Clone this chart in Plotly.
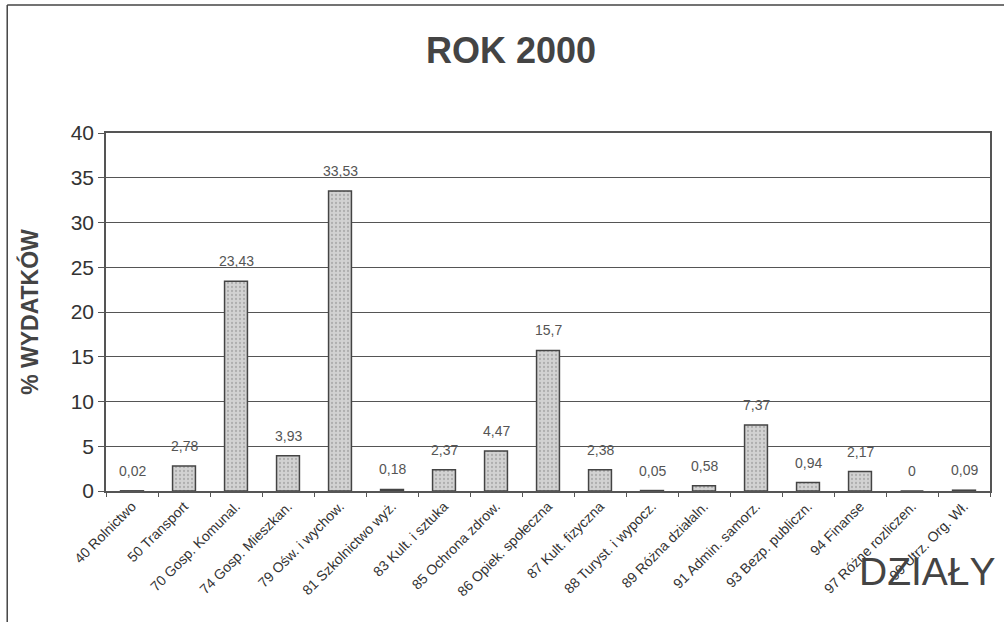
import plotly.graph_objects as go

categories = ["40 Rolnictwo", "50 Transport", "70 Gosp. Komunal.", "74 Gosp. Mieszkan.",
              "79 Ośw. i wychow.", "81 Szkolnictwo wyż.", "83 Kult. i sztuka", "85 Ochrona zdrow.",
              "86 Opiek. społeczna", "87 Kult. fizyczna", "88 Turyst. i wypocz.", "89 Różna działaln.",
              "91 Admin. samorz.", "93 Bezp. publiczn.", "94 Finanse", "97 Różne rozliczen.",
              "99 Utrz. Org. Wł."]
values = [0.02, 2.78, 23.43, 3.93, 33.53, 0.18, 2.37, 4.47, 15.7, 2.38, 0.05, 0.58, 7.37, 0.94, 2.17, 0, 0.09]
labels = ["0,02", "2,78", "23,43", "3,93", "33,53", "0,18", "2,37", "4,47", "15,7", "2,38",
          "0,05", "0,58", "7,37", "0,94", "2,17", "0", "0,09"]
y_ticks = [0, 5, 10, 15, 20, 25, 30, 35, 40]

FONT = "Liberation Sans, Arial, sans-serif"

fig = go.Figure()
fig.add_trace(go.Bar(
    x=categories, y=values, width=0.44,
    marker=dict(color="#cfcfcf", line=dict(color="#444444", width=1.5),
                pattern=dict(shape=".", fgcolor="#8a8a8a", bgcolor="#d2d2d2", size=4, solidity=0.25)),
    hoverinfo="skip",
))
for c, v, t in zip(categories, values, labels):
    fig.add_annotation(x=c, y=v, text=t, showarrow=False, yanchor="bottom", yshift=10,
                       font=dict(family=FONT, size=14, color="#555555"))

fig.update_layout(
    width=1004, height=622,
    margin=dict(l=106, r=12, t=133, b=131),
    paper_bgcolor="white", plot_bgcolor="white",
    showlegend=False,
    title=dict(text="<b>ROK 2000</b>", x=511 / 1004, xanchor="center",
               y=1 - 50 / 622, yanchor="middle",
               font=dict(family=FONT, size=36, color="#444444")),
    font=dict(family=FONT, color="#333333"),
)
fig.update_xaxes(
    tickangle=-45, tickfont=dict(size=14, color="#333333"),
    showline=True, linecolor="#555555", linewidth=1.5, mirror=True,
    ticks="outside", ticklen=4, tickcolor="#555555", tickson="boundaries",
    showgrid=False, range=[-0.5, 16.5],
)
fig.update_yaxes(
    range=[0, 40], tickvals=y_ticks, ticktext=[str(v) for v in y_ticks],
    tickfont=dict(size=21, color="#333333"),
    showgrid=True, gridcolor="#555555", gridwidth=1,
    showline=True, linecolor="#555555", linewidth=1.5, mirror=True,
    ticks="outside", ticklen=6, tickcolor="#555555",
    title=dict(text="<b>% WYDATKÓW</b>", font=dict(size=23, color="#444444"), standoff=26),
)
# outer frame (left and top edges of the chart box)
fx = (7 - 106) / 886
fy = (491 - 5) / 358
fig.add_shape(type="line", xref="paper", yref="paper", x0=fx, x1=fx, y0=-0.4, y1=fy,
              line=dict(color="#444444", width=1.5))
fig.add_shape(type="line", xref="paper", yref="paper", x0=fx, x1=1.02, y0=fy, y1=fy,
              line=dict(color="#444444", width=1.5))
fig.add_annotation(xref="paper", yref="paper", x=(1000 - 106) / 886, y=(491 - 571) / 358,
                   xanchor="right", yanchor="middle",
                   text="DZIAŁY", showarrow=False,
                   font=dict(family=FONT, size=39, color="#444444"))

fig.write_html("out.html", config={"displayModeBar": False},
               post_script="document.body.style.margin='0';")
